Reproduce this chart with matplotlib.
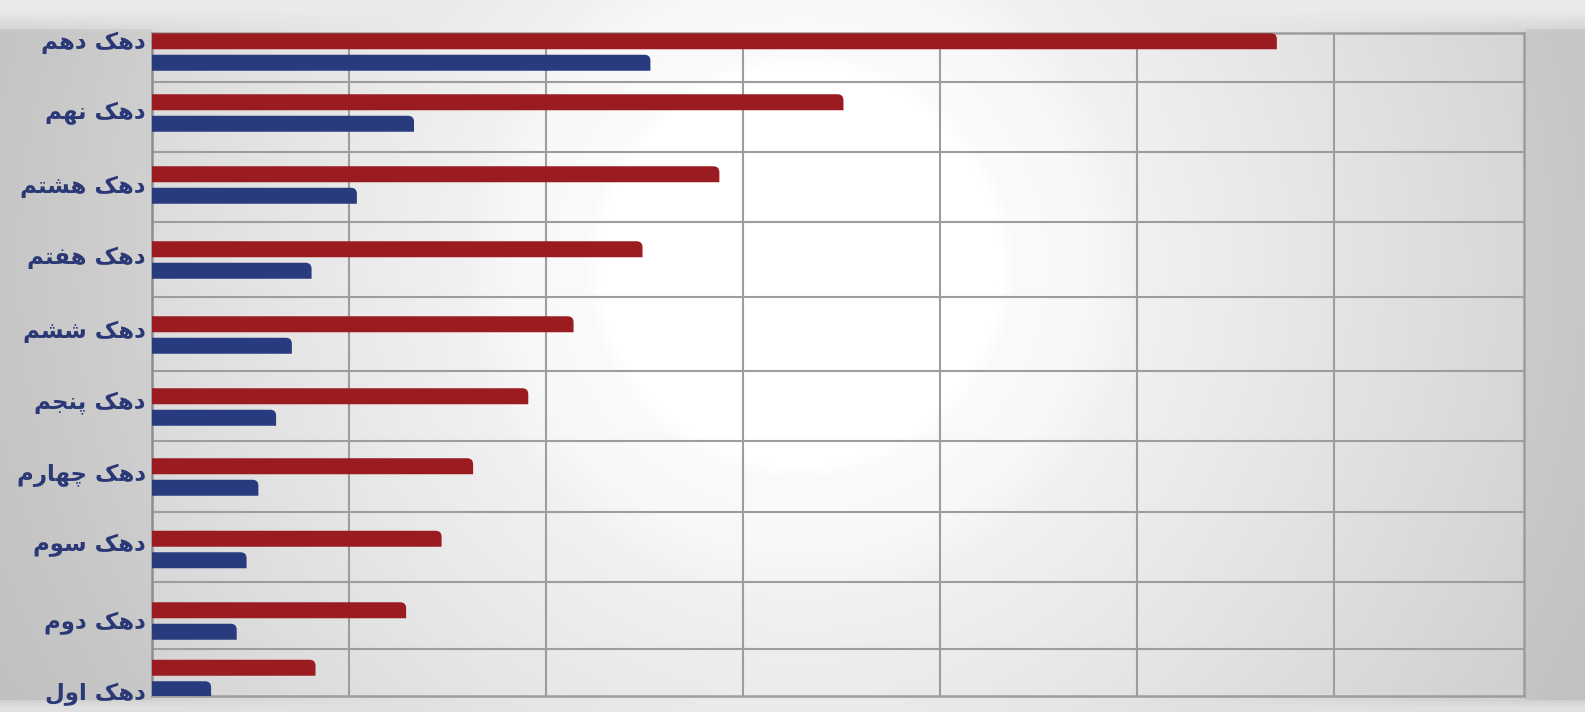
import numpy as np
import matplotlib
matplotlib.use('Agg')
import matplotlib.pyplot as plt
from matplotlib.path import Path
from matplotlib.patches import PathPatch

# ---------------- data ----------------
categories = ['دهک دهم', 'دهک نهم', 'دهک هشتم', 'دهک هفتم', 'دهک ششم',
              'دهک پنجم', 'دهک چهارم', 'دهک سوم', 'دهک دوم', 'دهک اول']
red_values = [57.1, 35.1, 28.8, 24.9, 21.4, 19.1, 16.3, 14.7, 12.9, 8.3]
blue_values = [25.3, 13.3, 10.4, 8.1, 7.1, 6.3, 5.4, 4.8, 4.3, 3.0]
x_ticks = [0, 10, 20, 30, 40, 50, 60]

# ---------------- layout (rows in pixel units from the top) ----------------
W, H = 1585, 712
AX_L, AX_R, AX_T, AX_B = 152, 1524, 33, 696
row_centers = [52, 113, 185, 260, 335, 407, 477, 549.5, 621, 678.5]
row_lines = [82, 152, 222, 297, 371, 441, 512, 582, 649]
label_offsets = [-9, 0, 2, -2, -3, -4, -2, -4, 2, 16]
PX_PER_UNIT = 19.7
BAR_H = 16
BAR_OFF = 10.75
RADIUS = 6

RED = '#9b1c20'
BLUE = '#293b7f'
TEXT = '#2a3875'
GRID = '#9d9d9d'

# ---------------- minimal Persian shaping ----------------
FORMS = {
    'ا': ('\uFE8D', '\uFE8E', None, None),
    'د': ('\uFEA9', '\uFEAA', None, None),
    'ر': ('\uFEAD', '\uFEAE', None, None),
    'و': ('\uFEED', '\uFEEE', None, None),
    'ه': ('\uFEE9', '\uFEEA', '\uFEEB', '\uFEEC'),
    'ک': ('\uFB8E', '\uFB8F', '\uFB90', '\uFB91'),
    'م': ('\uFEE1', '\uFEE2', '\uFEE3', '\uFEE4'),
    'ن': ('\uFEE5', '\uFEE6', '\uFEE7', '\uFEE8'),
    'ش': ('\uFEB5', '\uFEB6', '\uFEB7', '\uFEB8'),
    'ت': ('\uFE95', '\uFE96', '\uFE97', '\uFE98'),
    'ف': ('\uFED1', '\uFED2', '\uFED3', '\uFED4'),
    'پ': ('\uFB56', '\uFB57', '\uFB58', '\uFB59'),
    'ج': ('\uFE9D', '\uFE9E', '\uFE9F', '\uFEA0'),
    'چ': ('\uFB7A', '\uFB7B', '\uFB7C', '\uFB7D'),
    'س': ('\uFEB1', '\uFEB2', '\uFEB3', '\uFEB4'),
    'ل': ('\uFEDD', '\uFEDE', '\uFEDF', '\uFEE0'),
}


def shape(s):
    out = []
    for i, c in enumerate(s):
        if c not in FORMS:
            out.append(c)
            continue
        iso, fin, ini, med = FORMS[c]
        prev = s[i - 1] if i > 0 else ''
        nxt = s[i + 1] if i + 1 < len(s) else ''
        jp = prev in FORMS and FORMS[prev][2] is not None
        jn = ini is not None and nxt in FORMS
        if jp and jn:
            out.append(med)
        elif jp:
            out.append(fin)
        elif jn:
            out.append(ini)
        else:
            out.append(iso)
    return ''.join(reversed(out))


# ---------------- figure & background ----------------
fig = plt.figure(figsize=(W / 100, H / 100), dpi=100)
bg = fig.add_axes([0, 0, 1, 1], zorder=-10)
yy, xx = np.mgrid[0:H, 0:W]
r = np.hypot(xx - 800, yy - 265)
v = np.interp(r, [0, 200, 215, 285, 300, 318, 335, 450, 600, 800, 950],
              [255, 255, 250, 248, 246, 244, 241, 234, 224, 210, 202])
# darker side strips outside the board
side = ((xx < AX_L) | (xx > AX_R)) & (yy > 28) & (yy < 700)
v = np.where(side, v - 12, v)
t = np.clip((32 - yy) / 22.0, 0, 1)
v = v * (1 - t) + np.maximum(v, 234) * t
tb = np.clip((yy - 699) / 8.0, 0, 1)
v = v * (1 - tb) + np.maximum(v, 224) * tb
img = np.dstack([v, v, v]) / 255.0
bg.imshow(img, aspect='auto', extent=[0, W, H, 0], interpolation='bilinear')
bg.set_axis_off()

# ---------------- main axes ----------------
ax = fig.add_axes([AX_L / W, 1 - AX_B / H, (AX_R - AX_L) / W, (AX_B - AX_T) / H])
ax.patch.set_alpha(0)

rx = RADIUS / PX_PER_UNIT
ry = RADIUS


def rounded_bar(val, yc, color):
    top = yc - BAR_H / 2
    bot = yc + BAR_H / 2
    verts = [(0, bot), (val, bot), (val, top + ry), (val, top), (val - rx, top),
             (0, top), (0, bot)]
    codes = [Path.MOVETO, Path.LINETO, Path.LINETO, Path.CURVE3, Path.CURVE3,
             Path.LINETO, Path.CLOSEPOLY]
    ax.add_patch(PathPatch(Path(verts, codes), facecolor=color,
                           edgecolor='none', zorder=3))


red_y = [c - BAR_OFF for c in row_centers]
blue_y = [c + BAR_OFF for c in row_centers]
red_bars = ax.barh(red_y, red_values, height=BAR_H, color=RED, visible=False)
blue_bars = ax.barh(blue_y, blue_values, height=BAR_H, color=BLUE, visible=False)
for bars, color in ((red_bars, RED), (blue_bars, BLUE)):
    for rect in bars:
        rounded_bar(rect.get_width(), rect.get_y() + rect.get_height() / 2, color)

ax.set_xlim(0, (AX_R - AX_L) / PX_PER_UNIT)
ax.set_ylim(AX_B, AX_T)
ax.set_xticks(x_ticks)
ax.grid(axis='x', color=GRID, linewidth=1.5, zorder=1)
ax.hlines(row_lines, 0, 1, transform=ax.get_yaxis_transform(),
          color=GRID, linewidth=1.5, zorder=1)
ax.tick_params(length=0, labelbottom=False, labelleft=False)
ax.set_yticks([])
for side_name, sp in ax.spines.items():
    sp.set_color(GRID)
    sp.set_linewidth(1.8)
ax.spines['left'].set_color('#8e8e8e')

trans = ax.get_yaxis_transform()
for cat, yc, off in zip(categories, row_centers, label_offsets):
    ax.text(-6 / (AX_R - AX_L), yc + off, shape(cat), transform=trans,
            ha='right', va='center', fontsize=16.5, fontweight='bold', color=TEXT,
            family=['DejaVu Sans'], clip_on=False)

fig.savefig('out.png', dpi=100)
